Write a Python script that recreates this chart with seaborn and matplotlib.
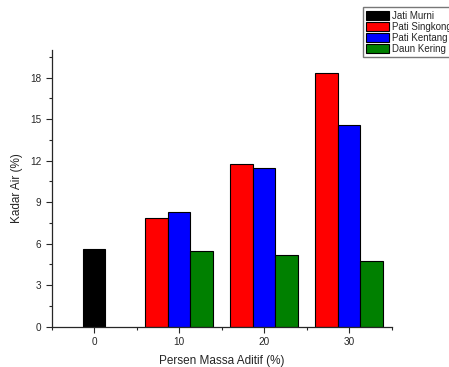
import pandas as pd
import seaborn as sns
import matplotlib.pyplot as plt
from matplotlib.patches import Patch
from matplotlib.ticker import MultipleLocator

# Data
series = ['Jati Murni', 'Pati Singkong', 'Pati Kentang', 'Daun Kering']
colors = ['#000000', '#ff0000', '#0000ff', '#008000']

base_x = [0]
base_y = [5.6]

additive_x = [10, 20, 30]
singkong = [7.85, 11.75, 18.35]
kentang = [8.3, 11.45, 14.55]
daun = [5.5, 5.15, 4.75]

df_base = pd.DataFrame({'Massa': base_x, 'Kadar': base_y, 'Jenis': series[0]})
df_add = pd.concat([
    pd.DataFrame({'Massa': additive_x, 'Kadar': vals, 'Jenis': name})
    for name, vals in zip(series[1:], [singkong, kentang, daun])
])

sns.set_style('ticks')
plt.rcParams['font.family'] = ['Liberation Sans', 'DejaVu Sans']

fig = plt.figure(figsize=(4.49, 3.67), dpi=100)
ax = fig.add_axes([0.115, 0.110, 0.757, 0.754])

# Control sample alone at 0
sns.barplot(data=df_base, x='Massa', y='Kadar', hue='Jenis', palette=colors[:1],
            native_scale=True, width=8 / 3, edgecolor='black', linewidth=0.8,
            saturation=1, legend=False, ax=ax)
# Three additives grouped at 10, 20, 30
sns.barplot(data=df_add, x='Massa', y='Kadar', hue='Jenis', palette=colors[1:],
            hue_order=series[1:], native_scale=True, width=0.8,
            edgecolor='black', linewidth=0.8, saturation=1, legend=False, ax=ax)

ax.set_xlim(-5, 35)
ax.set_ylim(0, 20)
ax.set_xticks([0, 10, 20, 30])
ax.xaxis.set_minor_locator(MultipleLocator(5))
ax.set_yticks([0, 3, 6, 9, 12, 15, 18])
ax.yaxis.set_minor_locator(MultipleLocator(1.5))
ax.tick_params(which='major', length=4, width=0.8, labelsize=7.2, direction='out')
ax.tick_params(which='minor', length=2, width=0.8, direction='out')
sns.despine(ax=ax)
for s in ['left', 'bottom']:
    ax.spines[s].set_linewidth(0.9)

ax.set_xlabel('Persen Massa Aditif (%)', fontsize=8.5, labelpad=6)
ax.set_ylabel('Kadar Air (%)', fontsize=8.5, labelpad=5)

handles = [Patch(facecolor=c, edgecolor='black', linewidth=0.8) for c in colors]
fig.legend(handles, series, loc='upper left', bbox_to_anchor=(0.808, 0.98),
           fontsize=7, frameon=True, fancybox=False, edgecolor='#555555',
           handlelength=2.3, handleheight=1.05, handletextpad=0.35,
           labelspacing=0.1, borderpad=0.35, borderaxespad=0)

fig.savefig('out.png', dpi=100)
